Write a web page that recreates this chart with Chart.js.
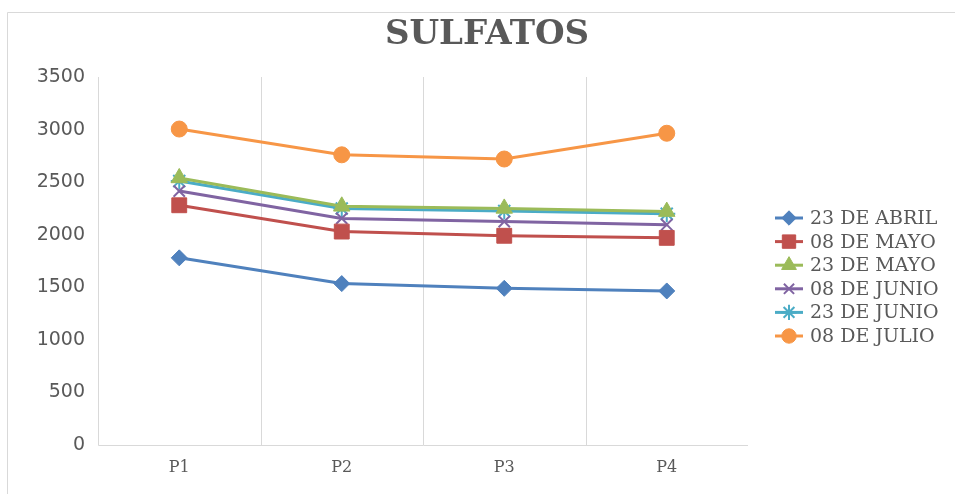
<!DOCTYPE html>
<html>
<head>
<meta charset="utf-8">
<script src="https://cdn.jsdelivr.net/npm/chart.js@4.4.1/dist/chart.umd.min.js"></script>
<style>
  html, body { margin: 0; padding: 0; background: #fff; }
  #wrap { width: 955px; height: 494px; position: relative; }
</style>
</head>
<body>
<div id="wrap"><canvas id="c" width="955" height="494"></canvas></div>
<script>
const categories = ['P1', 'P2', 'P3', 'P4'];
const yTicks = [0, 500, 1000, 1500, 2000, 2500, 3000, 3500];
const seriesNames = ['23 DE ABRIL', '08 DE MAYO', '23 DE MAYO', '08 DE JUNIO', '23 DE JUNIO', '08 DE JULIO'];
const abril23 = [1780, 1535, 1490, 1465];
const mayo08  = [2280, 2030, 1990, 1970];
const mayo23  = [2540, 2270, 2250, 2220];
const junio08 = [2415, 2155, 2125, 2095];
const junio23 = [2510, 2250, 2225, 2200];
const julio08 = [3005, 2760, 2720, 2965];
const titleText = 'SULFATOS';

const seriesValues = [abril23, mayo08, mayo23, junio08, junio23, julio08];
const colors = ['#4F81BD', '#C0504D', '#9BBB59', '#8064A2', '#4BACC6', '#F79646'];
const styles = ['rectRot', 'rect', 'triangle', 'crossRot', 'star', 'circle'];
const radii = [8, 10.5, 9.5, 8, 8.5, 8];
const pbw = [1, 1, 1, 2, 2, 1];

const TEXT = '#595959';
const GRID = '#d9d9d9';

const datasets = seriesNames.map((n, i) => ({
  label: n,
  data: seriesValues[i],
  borderColor: colors[i],
  backgroundColor: colors[i],
  borderWidth: 3,
  tension: 0,
  pointStyle: styles[i],
  pointRadius: radii[i],
  pointHoverRadius: radii[i],
  pointBackgroundColor: colors[i],
  pointBorderColor: colors[i],
  pointBorderWidth: pbw[i]
}));

function drawMarker(ctx, style, r, x, y, color, bw) {
  ctx.save();
  ctx.fillStyle = color;
  ctx.strokeStyle = color;
  ctx.lineWidth = bw;
  if (Chart.helpers && Chart.helpers.drawPoint) {
    Chart.helpers.drawPoint(ctx, { pointStyle: style, radius: r, rotation: 0, borderWidth: bw }, x, y);
  } else {
    ctx.beginPath(); ctx.arc(x, y, r, 0, Math.PI * 2); ctx.fill();
  }
  ctx.restore();
}

const decor = {
  id: 'decor',
  beforeDraw(chart) {
    const ctx = chart.ctx;
    ctx.save();
    ctx.fillStyle = '#fff';
    ctx.fillRect(0, 0, chart.width, chart.height);
    ctx.strokeStyle = GRID;
    ctx.lineWidth = 1;
    ctx.beginPath();
    ctx.moveTo(7.5, chart.height);
    ctx.lineTo(7.5, 12.5);
    ctx.lineTo(chart.width, 12.5);
    ctx.stroke();
    ctx.restore();
  },
  beforeDatasetsDraw(chart) {
    const ctx = chart.ctx;
    const xs = chart.scales.x;
    const area = chart.chartArea;
    ctx.save();
    ctx.strokeStyle = GRID;
    ctx.lineWidth = 1;
    // left axis line and bottom axis line
    const l = Math.round(area.left) + 0.5;
    const b = Math.round(area.bottom) + 0.5;
    ctx.beginPath();
    ctx.moveTo(l, Math.round(area.top));
    ctx.lineTo(l, b);
    ctx.lineTo(Math.round(area.right), b);
    ctx.stroke();
    // category separators, midway between the x scale's ticks
    for (let i = 1; i < categories.length; i++) {
      const x = Math.round((xs.getPixelForTick(i - 1) + xs.getPixelForTick(i)) / 2) + 0.5;
      ctx.beginPath();
      ctx.moveTo(x, area.top);
      ctx.lineTo(x, area.bottom);
      ctx.stroke();
    }
    ctx.restore();
  },
  afterDraw(chart) {
    const ctx = chart.ctx;
    const area = chart.chartArea;
    ctx.save();
    // make sure no closing line remains at the right edge of the plot area
    ctx.fillStyle = '#fff';
    ctx.fillRect(Math.round(area.right) - 2, Math.round(area.top) - 2, 6, Math.round(area.bottom - area.top) + 1);
    ctx.fillStyle = TEXT;
    ctx.font = 'bold 34px "DejaVu Serif"';
    ctx.textAlign = 'center';
    ctx.textBaseline = 'middle';
    ctx.fillText(titleText, 487, 35);
    ctx.font = '19px "DejaVu Serif"';
    ctx.textAlign = 'left';
    seriesNames.forEach((n, i) => {
      const y = 218 + i * 23.6;
      ctx.strokeStyle = colors[i];
      ctx.lineWidth = 3;
      ctx.beginPath();
      ctx.moveTo(775, y);
      ctx.lineTo(803, y);
      ctx.stroke();
      drawMarker(ctx, styles[i], radii[i] * 0.9, 789, y, colors[i], pbw[i]);
      ctx.fillStyle = TEXT;
      ctx.fillText(n, 810, y + 1);
    });
    ctx.restore();
  }
};

new Chart(document.getElementById('c'), {
  type: 'line',
  data: { labels: categories, datasets },
  plugins: [decor],
  options: {
    responsive: false,
    animation: false,
    layout: { padding: { left: 7, right: 207, top: 77, bottom: 0 } },
    plugins: {
      legend: { display: false },
      title: { display: false },
      tooltip: { enabled: false }
    },
    scales: {
      x: {
        offset: true,
        grid: { display: false, drawTicks: false },
        border: { display: false },
        ticks: { color: TEXT, font: { family: 'DejaVu Serif', size: 16 }, padding: 13 },
        afterFit: (s) => { s.height = 49; }
      },
      y: {
        min: 0,
        max: 3500,
        afterBuildTicks: (s) => { s.ticks = yTicks.map(v => ({ value: v })); },
        grid: { display: false, drawTicks: false },
        border: { display: false },
        ticks: {
          color: TEXT,
          font: { family: 'DejaVu Sans', size: 19 },
          padding: 13,
          callback: (v) => String(v)
        },
        afterFit: (s) => { s.width = 91; }
      }
    }
  }
});
</script>
</body>
</html>
